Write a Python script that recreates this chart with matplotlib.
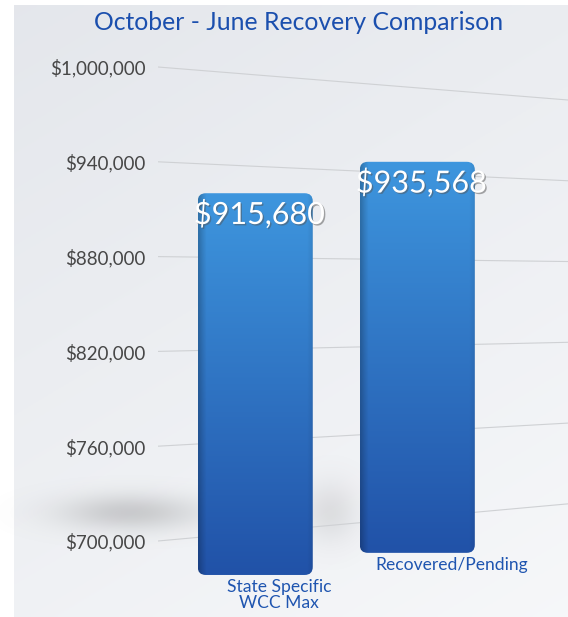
import numpy as np
import matplotlib
matplotlib.use("Agg")
import matplotlib.pyplot as plt
import matplotlib.patheffects as pe
from matplotlib.patches import FancyBboxPatch

# data
categories = ["State Specific\nWCC Max", "Recovered/Pending"]
values = [915680, 935568]
value_labels = ["$915,680", "$935,568"]
yticks = [700000, 760000, 820000, 880000, 940000, 1000000]
ytick_labels = ["$700,000", "$760,000", "$820,000", "$880,000", "$940,000", "$1,000,000"]
title = "October - June Recovery Comparison"

# layout (perspective floor for each bar, visible top face)
bar_bottoms = [678500, 692500]
bar_width = 0.71
horizon = 858900
tilt = 0.148

plt.rcParams['font.family'] = ['Lato', 'DejaVu Sans']

W, H = 568, 617
fig = plt.figure(figsize=(W / 100, H / 100), dpi=100)
fig.patch.set_facecolor("white")

# background panel + soft shadows, pixel coords
bg = fig.add_axes([0, 0, 1, 1], zorder=-1)
bg.set_xlim(0, W)
bg.set_ylim(H, 0)
bg.axis("off")
yy, xx = np.mgrid[0:1:200j, 0:1:200j]
top = np.array([0.895, 0.905, 0.925])
bot = np.array([0.965, 0.97, 0.978])
t = np.clip(0.65 * yy + 0.35 * xx, 0, 1)[..., None]
panel = top * (1 - t) + bot * t
bg.imshow(panel, extent=[14, W, H, 5], aspect="auto", zorder=0)

gy, gx = np.mgrid[0:H, 0:W]
alpha = 0.30 * np.exp(-(((gx - 130) / 70.0) ** 2 + ((gy - 512) / 18.0) ** 2))
alpha += 0.16 * np.exp(-(((gx - 330) / 28.0) ** 2 + ((gy - 512) / 30.0) ** 2))
shadow = np.zeros((H, W, 4))
shadow[..., :3] = 0.45
shadow[..., 3] = np.clip(alpha, 0, 1)
bg.imshow(shadow, extent=[0, W, H, 0], aspect="auto", zorder=1)

bg.text(299, 23, title, ha="center", va="center", fontsize=17.8,
        color="#1b4fae")

# main axes
px = 60000 / 94.8
top_face = 7 * px
ax = fig.add_axes([158 / W, (H - 580) / H, (W - 158) / W, 525 / H])
ax.set_facecolor("none")
ylo, yhi = 700000 - 39 * px, 1000000 + 12 * px
xlo, xhi = -0.60, 1.93

# perspective gridlines
for v in yticks:
    vr = v + (horizon - v) * tilt
    ax.plot([xlo, xhi], [v, vr], color="#cfd1d4", lw=0.8, zorder=1)

# gradient bars
ny = 100
c_top = np.array([62, 150, 222]) / 255
c_bot = np.array([33, 82, 168]) / 255
gv = np.linspace(0, 1, ny)[:, None, None]
col = c_top * (1 - gv) + c_bot * gv
shade = np.ones(60)
shade[:4] = [0.78, 0.84, 0.9, 0.95]
shade[-3:] = [0.97, 0.95, 0.9]
grad = col * shade[None, :, None]

aspect = px * 161
for i, (v, b) in enumerate(zip(values, bar_bottoms)):
    x0 = i - bar_width / 2
    patch = FancyBboxPatch((x0, b), bar_width, v + top_face - b,
                           boxstyle="round,pad=0,rounding_size=0.05",
                           mutation_aspect=aspect, facecolor="none",
                           edgecolor="none", transform=ax.transData)
    ax.add_patch(patch)
    im = ax.imshow(grad, extent=[x0, x0 + bar_width, b, v + top_face],
                   aspect="auto", zorder=3, interpolation="bilinear")
    im.set_clip_path(patch)
    ax.annotate(value_labels[i], (i, v), xytext=(3, -10),
                textcoords="offset points", ha="center", va="center",
                fontsize=22, color="white", zorder=5,
                path_effects=[pe.withSimplePatchShadow(offset=(1, -1),
                                                       shadow_rgbFace="#555555",
                                                       alpha=0.5)])
    ax.annotate(categories[i], (i, b), xytext=(17 + 7.5 * i, -3),
                textcoords="offset points", ha="center", va="top",
                fontsize=12.6, color="#1f55b0", linespacing=1.0,
                annotation_clip=False)

ax.set_xlim(xlo, xhi)
ax.set_ylim(ylo, yhi)
ax.set_yticks(yticks)
ax.set_yticklabels(ytick_labels, fontsize=13.5, color="#474747")
ax.tick_params(axis="y", length=0, pad=9)
ax.set_xticks([])
for s in ax.spines.values():
    s.set_visible(False)

fig.savefig("out.png", dpi=100)
